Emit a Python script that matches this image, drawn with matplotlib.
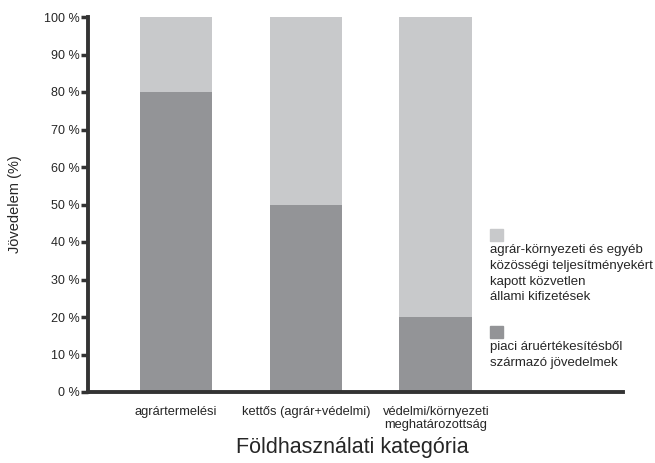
import matplotlib.pyplot as plt
from matplotlib.patches import Rectangle
import numpy as np

plt.rcParams['font.family'] = ['Liberation Sans', 'DejaVu Sans']

# Data
categories = ['agrártermelési', 'kettős (agrár+védelmi)',
              'védelmi/környezeti\nmeghatározottság']
piaci = [80, 50, 20]        # piaci áruértékesítésből származó jövedelmek
allami = [20, 50, 80]       # közvetlen állami kifizetések
yticks = list(range(0, 101, 10))

dark = '#939497'
light = '#c8c9cb'
ink = '#262626'

fig = plt.figure(figsize=(6.55, 4.63), dpi=100)
W, H = 655, 463
ax = fig.add_axes([88 / W, 1 - 392 / H, (623 - 88) / W, (392 - 17) / H])

x = np.arange(len(categories))
ax.bar(x, piaci, width=0.56, color=dark, zorder=2)
ax.bar(x, allami, bottom=piaci, width=0.56, color=light, zorder=2)

ax.set_xlim(-0.677, 3.44)
ax.set_ylim(0, 100)
ax.set_yticks(yticks)
ax.set_yticklabels([f'{v} %' for v in yticks], fontsize=9, color=ink)
ax.set_xticks(x)
ax.set_xticklabels(categories, fontsize=9.3, color=ink, linespacing=1.15)
ax.tick_params(axis='x', length=0, pad=10)
ax.tick_params(axis='y', length=5, width=2.5, color='#333333', pad=1)

for s in ['top', 'right']:
    ax.spines[s].set_visible(False)
for s in ['left', 'bottom']:
    ax.spines[s].set_linewidth(2.8)
    ax.spines[s].set_color('#333333')
    ax.spines[s].set_zorder(3)

ax.set_ylabel('Jövedelem (%)', fontsize=10.5, color=ink, labelpad=16)
fig.text(352 / W, 1 - 447 / H, 'Földhasználati kategória', fontsize=15.5,
         color=ink, ha='center', va='center')

# legend: square above text block
def legend_entry(y_top, color, lines):
    fig.add_artist(Rectangle((490 / W, 1 - (y_top + 12) / H), 13 / W, 12 / H,
                             transform=fig.transFigure, color=color))
    fig.text(490 / W, 1 - (y_top + 15) / H, lines, fontsize=9.5, color=ink,
             ha='left', va='top', linespacing=1.42)

legend_entry(229, light, 'agrár-környezeti és egyéb\nközösségi teljesítményekért\n'
             'kapott közvetlen\nállami kifizetések')
legend_entry(326, dark, 'piaci áruértékesítésből\nszármazó jövedelmek')

fig.savefig('out.png', dpi=100)
